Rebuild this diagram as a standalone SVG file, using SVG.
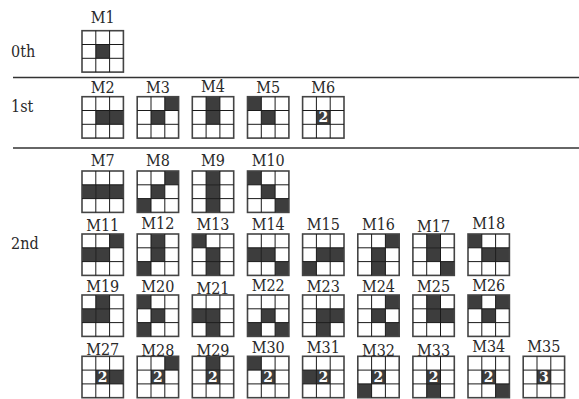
<svg xmlns="http://www.w3.org/2000/svg" xmlns:xlink="http://www.w3.org/1999/xlink" width="579" height="399" viewBox="0 0 579 399">
<style>
.lb{font-size:16px;text-anchor:middle;fill:#2a2a2a}
.sec{font-size:16px;fill:#2a2a2a}
.ob{fill:none;stroke:#444;stroke-width:1.6}
.ib{fill:none;stroke:#1a1a1a;stroke-width:1}
.k{fill:#3d3d3d}
.d{font-size:14px;font-weight:bold;fill:#fff;text-anchor:middle;font-family:"DejaVu Serif",serif}
.sep{stroke:#333;stroke-width:1.5}
</style>
<defs>
<g id="grid"><rect x="0" y="0" width="41.4" height="41.4" class="ob"/><path d="M13.8 0V41.4M27.6 0V41.4M0 13.8H41.4M0 27.6H41.4" class="ib"/></g>
<rect id="c" width="13.8" height="13.8" class="k"/>
</defs>
<rect width="579" height="399" fill="#fff"/>
<g font-family="'DejaVu Serif Condensed', 'DejaVu Serif', serif">
<g id="sections">
<text class="sec" x="11" y="57.3">0th</text>
<text class="sec" x="11" y="111.7">1st</text>
<text class="sec" x="11" y="249">2nd</text>
</g>
<g id="connectors">
<line class="sep" x1="13" y1="77.5" x2="579" y2="77.5"/>
<line class="sep" x1="13" y1="148" x2="579" y2="148"/>
</g>
<g id="M1" transform="translate(82,30.7)"><use xlink:href="#c" x="13.8" y="13.8"/><use xlink:href="#grid"/><text class="lb" x="20.7" y="-8">M1</text></g>
<g id="M2" transform="translate(82,96.7)"><use xlink:href="#c" x="13.8" y="13.8"/><use xlink:href="#c" x="27.6" y="13.8"/><use xlink:href="#grid"/><text class="lb" x="20.7" y="-3.7">M2</text></g>
<g id="M3" transform="translate(137.2,96.7)"><use xlink:href="#c" x="27.6" y="0"/><use xlink:href="#c" x="13.8" y="13.8"/><use xlink:href="#grid"/><text class="lb" x="20.7" y="-3.7">M3</text></g>
<g id="M4" transform="translate(192.3,96.7)"><use xlink:href="#c" x="13.8" y="0"/><use xlink:href="#c" x="13.8" y="13.8"/><use xlink:href="#grid"/><text class="lb" x="20.7" y="-4.7">M4</text></g>
<g id="M5" transform="translate(247.5,96.7)"><use xlink:href="#c" x="0" y="0"/><use xlink:href="#c" x="13.8" y="13.8"/><use xlink:href="#grid"/><text class="lb" x="20.7" y="-3.7">M5</text></g>
<g id="M6" transform="translate(302.6,96.7)"><use xlink:href="#c" x="13.8" y="13.8"/><use xlink:href="#grid"/><text class="d" x="20.7" y="25.8">2</text><text class="lb" x="20.7" y="-3.7">M6</text></g>
<g id="M7" transform="translate(82,171)"><use xlink:href="#c" x="0" y="13.8"/><use xlink:href="#c" x="13.8" y="13.8"/><use xlink:href="#c" x="27.6" y="13.8"/><use xlink:href="#grid"/><text class="lb" x="20.7" y="-5.3">M7</text></g>
<g id="M8" transform="translate(137.2,171)"><use xlink:href="#c" x="27.6" y="0"/><use xlink:href="#c" x="13.8" y="13.8"/><use xlink:href="#c" x="0" y="27.6"/><use xlink:href="#grid"/><text class="lb" x="20.7" y="-5.3">M8</text></g>
<g id="M9" transform="translate(192.3,171)"><use xlink:href="#c" x="13.8" y="0"/><use xlink:href="#c" x="13.8" y="13.8"/><use xlink:href="#c" x="13.8" y="27.6"/><use xlink:href="#grid"/><text class="lb" x="20.7" y="-5.3">M9</text></g>
<g id="M10" transform="translate(247.5,171)"><use xlink:href="#c" x="0" y="0"/><use xlink:href="#c" x="13.8" y="13.8"/><use xlink:href="#c" x="27.6" y="27.6"/><use xlink:href="#grid"/><text class="lb" x="20.7" y="-5.3">M10</text></g>
<g id="M11" transform="translate(82,234)"><use xlink:href="#c" x="27.6" y="0"/><use xlink:href="#c" x="0" y="13.8"/><use xlink:href="#c" x="13.8" y="13.8"/><use xlink:href="#grid"/><text class="lb" x="20.7" y="-3.5">M11</text></g>
<g id="M12" transform="translate(137.2,234)"><use xlink:href="#c" x="13.8" y="0"/><use xlink:href="#c" x="13.8" y="13.8"/><use xlink:href="#c" x="0" y="27.6"/><use xlink:href="#grid"/><text class="lb" x="20.7" y="-4.7">M12</text></g>
<g id="M13" transform="translate(192.3,234)"><use xlink:href="#c" x="0" y="0"/><use xlink:href="#c" x="13.8" y="13.8"/><use xlink:href="#c" x="13.8" y="27.6"/><use xlink:href="#grid"/><text class="lb" x="20.7" y="-4.5">M13</text></g>
<g id="M14" transform="translate(247.5,234)"><use xlink:href="#c" x="0" y="13.8"/><use xlink:href="#c" x="13.8" y="13.8"/><use xlink:href="#c" x="27.6" y="27.6"/><use xlink:href="#grid"/><text class="lb" x="20.7" y="-4.5">M14</text></g>
<g id="M15" transform="translate(302.6,234)"><use xlink:href="#c" x="13.8" y="13.8"/><use xlink:href="#c" x="27.6" y="13.8"/><use xlink:href="#c" x="0" y="27.6"/><use xlink:href="#grid"/><text class="lb" x="20.7" y="-4.5">M15</text></g>
<g id="M16" transform="translate(357.8,234)"><use xlink:href="#c" x="27.6" y="0"/><use xlink:href="#c" x="13.8" y="13.8"/><use xlink:href="#c" x="13.8" y="27.6"/><use xlink:href="#grid"/><text class="lb" x="20.7" y="-4">M16</text></g>
<g id="M17" transform="translate(412.9,234)"><use xlink:href="#c" x="13.8" y="0"/><use xlink:href="#c" x="13.8" y="13.8"/><use xlink:href="#c" x="27.6" y="27.6"/><use xlink:href="#grid"/><text class="lb" x="20.7" y="-2.5">M17</text></g>
<g id="M18" transform="translate(468,234)"><use xlink:href="#c" x="0" y="0"/><use xlink:href="#c" x="13.8" y="13.8"/><use xlink:href="#c" x="27.6" y="13.8"/><use xlink:href="#grid"/><text class="lb" x="20.7" y="-5">M18</text></g>
<g id="M19" transform="translate(82,295)"><use xlink:href="#c" x="13.8" y="0"/><use xlink:href="#c" x="0" y="13.8"/><use xlink:href="#c" x="13.8" y="13.8"/><use xlink:href="#grid"/><text class="lb" x="20.7" y="-3.5">M19</text></g>
<g id="M20" transform="translate(137.2,295)"><use xlink:href="#c" x="0" y="0"/><use xlink:href="#c" x="13.8" y="13.8"/><use xlink:href="#c" x="0" y="27.6"/><use xlink:href="#grid"/><text class="lb" x="20.7" y="-3.3">M20</text></g>
<g id="M21" transform="translate(192.3,295)"><use xlink:href="#c" x="0" y="13.8"/><use xlink:href="#c" x="13.8" y="13.8"/><use xlink:href="#c" x="13.8" y="27.6"/><use xlink:href="#grid"/><text class="lb" x="20.7" y="-0.8">M21</text></g>
<g id="M22" transform="translate(247.5,295)"><use xlink:href="#c" x="13.8" y="13.8"/><use xlink:href="#c" x="0" y="27.6"/><use xlink:href="#c" x="27.6" y="27.6"/><use xlink:href="#grid"/><text class="lb" x="20.7" y="-4">M22</text></g>
<g id="M23" transform="translate(302.6,295)"><use xlink:href="#c" x="13.8" y="13.8"/><use xlink:href="#c" x="27.6" y="13.8"/><use xlink:href="#c" x="13.8" y="27.6"/><use xlink:href="#grid"/><text class="lb" x="20.7" y="-3.5">M23</text></g>
<g id="M24" transform="translate(357.8,295)"><use xlink:href="#c" x="27.6" y="0"/><use xlink:href="#c" x="13.8" y="13.8"/><use xlink:href="#c" x="27.6" y="27.6"/><use xlink:href="#grid"/><text class="lb" x="20.7" y="-3.5">M24</text></g>
<g id="M25" transform="translate(412.9,295)"><use xlink:href="#c" x="13.8" y="0"/><use xlink:href="#c" x="13.8" y="13.8"/><use xlink:href="#c" x="27.6" y="13.8"/><use xlink:href="#grid"/><text class="lb" x="20.7" y="-3.5">M25</text></g>
<g id="M26" transform="translate(468,295)"><use xlink:href="#c" x="0" y="0"/><use xlink:href="#c" x="27.6" y="0"/><use xlink:href="#c" x="13.8" y="13.8"/><use xlink:href="#grid"/><text class="lb" x="20.7" y="-4.5">M26</text></g>
<g id="M27" transform="translate(82,356.3)"><use xlink:href="#c" x="13.8" y="13.8"/><use xlink:href="#c" x="27.6" y="13.8"/><use xlink:href="#grid"/><text class="d" x="20.7" y="25.8">2</text><text class="lb" x="20.7" y="-1.5">M27</text></g>
<g id="M28" transform="translate(137.2,356.3)"><use xlink:href="#c" x="13.8" y="13.8"/><use xlink:href="#c" x="27.6" y="0"/><use xlink:href="#grid"/><text class="d" x="20.7" y="25.8">2</text><text class="lb" x="20.7" y="-0.8">M28</text></g>
<g id="M29" transform="translate(192.3,356.3)"><use xlink:href="#c" x="13.8" y="13.8"/><use xlink:href="#c" x="13.8" y="0"/><use xlink:href="#grid"/><text class="d" x="20.7" y="25.8">2</text><text class="lb" x="20.7" y="0">M29</text></g>
<g id="M30" transform="translate(247.5,356.3)"><use xlink:href="#c" x="13.8" y="13.8"/><use xlink:href="#c" x="0" y="0"/><use xlink:href="#grid"/><text class="d" x="20.7" y="25.8">2</text><text class="lb" x="20.7" y="-3">M30</text></g>
<g id="M31" transform="translate(302.6,356.3)"><use xlink:href="#c" x="13.8" y="13.8"/><use xlink:href="#c" x="0" y="13.8"/><use xlink:href="#grid"/><text class="d" x="20.7" y="25.8">2</text><text class="lb" x="20.7" y="-3">M31</text></g>
<g id="M32" transform="translate(357.8,356.3)"><use xlink:href="#c" x="13.8" y="13.8"/><use xlink:href="#c" x="0" y="27.6"/><use xlink:href="#grid"/><text class="d" x="20.7" y="25.8">2</text><text class="lb" x="20.7" y="-0.5">M32</text></g>
<g id="M33" transform="translate(412.9,356.3)"><use xlink:href="#c" x="13.8" y="13.8"/><use xlink:href="#c" x="13.8" y="27.6"/><use xlink:href="#grid"/><text class="d" x="20.7" y="25.8">2</text><text class="lb" x="20.7" y="-0.5">M33</text></g>
<g id="M34" transform="translate(468,356.3)"><use xlink:href="#c" x="13.8" y="13.8"/><use xlink:href="#c" x="27.6" y="27.6"/><use xlink:href="#grid"/><text class="d" x="20.7" y="25.8">2</text><text class="lb" x="20.7" y="-4.5">M34</text></g>
<g id="M35" transform="translate(523.2,356.3)"><use xlink:href="#c" x="13.8" y="13.8"/><use xlink:href="#grid"/><text class="d" x="20.7" y="25.8">3</text><text class="lb" x="20.7" y="-4">M35</text></g>
</g>
</svg>
